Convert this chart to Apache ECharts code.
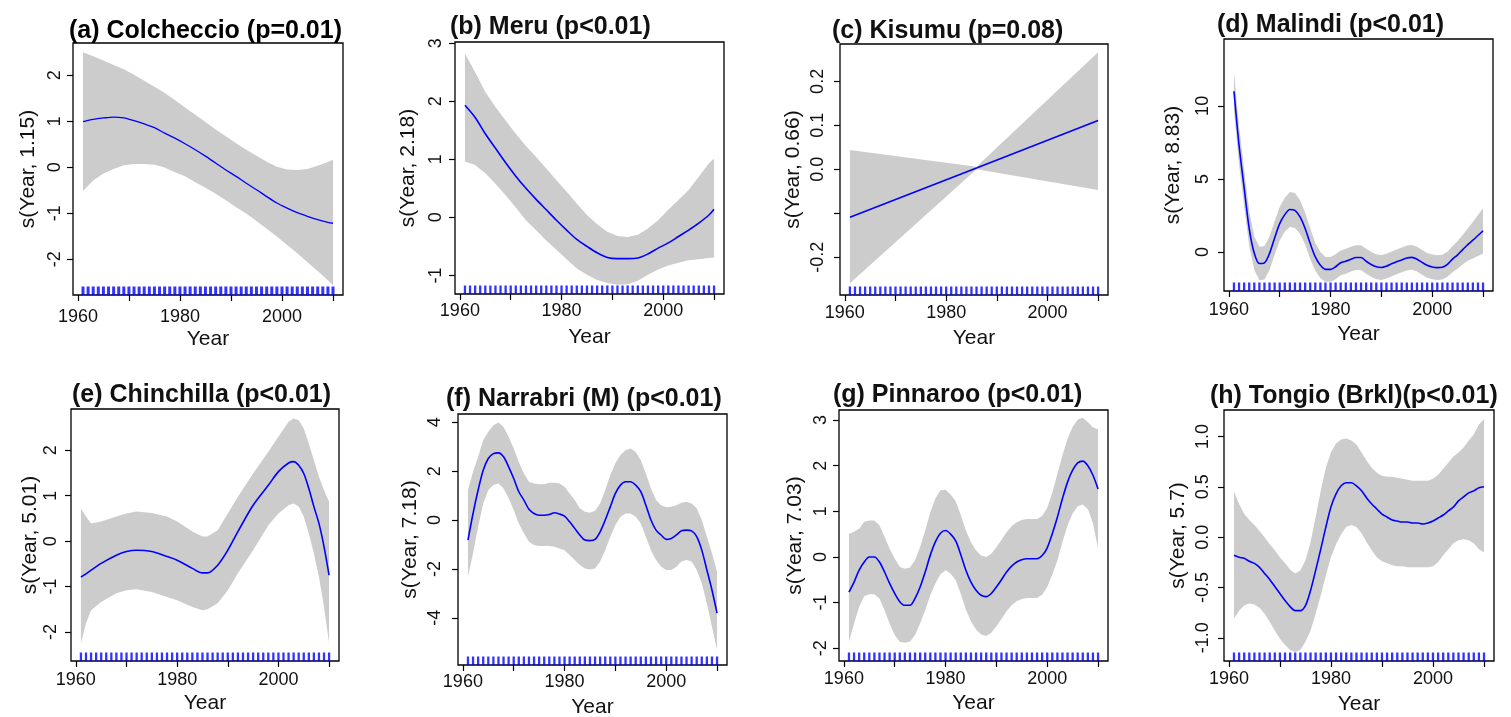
<!DOCTYPE html>
<html><head><meta charset="utf-8">
<script src="https://cdn.jsdelivr.net/npm/echarts@6/dist/echarts.min.js"></script>
<style>html,body{margin:0;padding:0;background:#fff}#c{width:1511px;height:717px}</style>
</head><body><div id="c"></div>
<script>
// ---------- data ----------
const rugYears = [1961,1962,1963,1964,1965,1966,1967,1968,1969,1970,1971,1972,1973,1974,1975,1976,1977,1978,1979,1980,1981,1982,1983,1984,1985,1986,1987,1988,1989,1990,1991,1992,1993,1994,1995,1996,1997,1998,1999,2000,2001,2002,2003,2004,2005,2006,2007,2008,2009,2010];
const allYears = rugYears;

const titles = ["(a) Colcheccio (p=0.01)","(b) Meru (p<0.01)","(c) Kisumu (p=0.08)","(d) Malindi (p<0.01)",
                "(e) Chinchilla (p<0.01)","(f) Narrabri (M) (p<0.01)","(g) Pinnaroo (p<0.01)","(h) Tongio (Brkl)(p<0.01)"];
const yNames = ["s(Year, 1.15)","s(Year, 2.18)","s(Year, 0.66)","s(Year, 8.83)","s(Year, 5.01)","s(Year, 7.18)","s(Year, 7.03)","s(Year, 5.7)"];
const xName = "Year";

const xLimits = [1959.04, 2011.96];
const xTicks = [1960,1970,1980,1990,2000,2010];
const xLabels = [1960,1980,2000];

const yLimits = [[-2.78,2.70],[-1.32,3.02],[-0.286,0.285],[-2.68,14.58],[-2.64,2.91],[-5.93,4.34],[-2.28,3.22],[-1.23,1.263]];
const yTicks = [[-2,-1,0,1,2],[-1,0,1,2,3],[-0.2,-0.1,0,0.1,0.2],[0,5,10],[-2,-1,0,1,2],[-4,-2,0,2,4],[-2,-1,0,1,2,3],[-1,-0.5,0,0.5,1]];
const yLabels = [[-2,-1,0,1,2],[-1,0,1,2,3],[-0.2,0,0.1,0.2],[0,5,10],[-2,-1,0,1,2],[-4,-2,0,2,4],[-2,-1,0,1,2,3],[-1,-0.5,0,0.5,1]];
const yDecimals = [0,0,1,0,0,0,0,1];

// (a) Colcheccio
const yearsA = [1961,1963,1965,1967,1969,1971,1973,1975,1977,1979,1981,1983,1985,1987,1989,1991,1993,1995,1997,1999,2001,2003,2005,2007,2009,2010];
const fitA = [0.99,1.04,1.07,1.09,1.07,1.01,0.94,0.86,0.74,0.63,0.51,0.38,0.24,0.09,-0.06,-0.20,-0.35,-0.49,-0.64,-0.78,-0.89,-0.99,-1.07,-1.14,-1.20,-1.22];
const upA  = [2.50,2.41,2.32,2.22,2.13,2.01,1.88,1.75,1.61,1.46,1.30,1.14,0.98,0.82,0.67,0.52,0.38,0.25,0.12,0.01,-0.05,-0.06,-0.04,0.03,0.11,0.16];
const loA  = [-0.52,-0.29,-0.14,-0.04,0.04,0.07,0.07,0.05,-0.01,-0.11,-0.20,-0.33,-0.45,-0.58,-0.72,-0.87,-1.01,-1.17,-1.34,-1.51,-1.69,-1.87,-2.07,-2.26,-2.46,-2.57];

// (b) Meru
const yearsB = yearsA;
const fitB = [1.93,1.72,1.44,1.19,0.94,0.71,0.50,0.31,0.13,-0.05,-0.22,-0.38,-0.50,-0.61,-0.69,-0.71,-0.71,-0.70,-0.63,-0.53,-0.44,-0.33,-0.22,-0.10,0.04,0.14];
const upB  = [2.82,2.50,2.16,1.90,1.67,1.44,1.23,1.04,0.84,0.64,0.44,0.24,0.04,-0.12,-0.25,-0.32,-0.34,-0.30,-0.19,-0.05,0.13,0.30,0.47,0.70,0.93,1.01];
const loB  = [0.96,0.90,0.76,0.58,0.38,0.17,-0.05,-0.22,-0.40,-0.56,-0.72,-0.88,-0.99,-1.08,-1.13,-1.16,-1.15,-1.09,-0.99,-0.90,-0.83,-0.78,-0.74,-0.72,-0.70,-0.69];

// (c) Kisumu
const yearsC = [1961,1986,2010];
const fitC = [-0.109,0.003,0.111];
const upC  = [0.044,0.006,0.266];
const loC  = [-0.259,0.000,-0.047];

// (d) Malindi
const fitD = [11.0,7.3,4.4,1.6,-0.1,-0.8,-0.75,-0.1,0.95,1.93,2.55,2.9,2.84,2.39,1.6,0.57,-0.34,-0.91,-1.2,-1.2,-1.02,-0.75,-0.64,-0.5,-0.39,-0.39,-0.64,-0.86,-1.02,-1.07,-0.98,-0.82,-0.68,-0.55,-0.42,-0.38,-0.5,-0.72,-0.92,-1.03,-1.08,-1.05,-0.85,-0.5,-0.2,0.15,0.5,0.8,1.12,1.44];
const upD  = [12.35,8.6,5.65,2.8,1.05,0.35,0.4,1.05,2.1,3.08,3.7,4.1,4.04,3.54,2.7,1.62,0.61,-0.01,-0.35,-0.35,-0.17,0.1,0.21,0.35,0.46,0.46,0.21,-0.01,-0.17,-0.22,-0.13,0.03,0.17,0.3,0.43,0.47,0.35,0.13,-0.07,-0.18,-0.23,-0.2,0.0,0.4,0.75,1.15,1.6,2.05,2.52,2.99];
const loD  = [9.65,6.0,3.15,0.4,-1.25,-1.95,-1.9,-1.25,-0.2,0.78,1.4,1.7,1.64,1.24,0.5,-0.48,-1.29,-1.81,-2.05,-2.05,-1.87,-1.6,-1.49,-1.35,-1.24,-1.24,-1.49,-1.71,-1.87,-1.92,-1.83,-1.67,-1.53,-1.4,-1.27,-1.23,-1.35,-1.57,-1.77,-1.88,-1.93,-1.9,-1.7,-1.4,-1.15,-0.85,-0.6,-0.45,-0.28,-0.11];

// (e) Chinchilla
const yearsE = [1961,1962,1963,1965,1968,1970,1972,1975,1978,1980,1983,1985,1986,1988,1990,1992,1995,1998,2000,2002,2003,2004,2005,2006,2007,2008,2009,2010];
const fitE = [-0.79,-0.72,-0.64,-0.49,-0.31,-0.23,-0.20,-0.23,-0.34,-0.42,-0.60,-0.70,-0.70,-0.53,-0.20,0.21,0.79,1.23,1.53,1.72,1.75,1.67,1.49,1.16,0.76,0.39,-0.12,-0.75];
const upE  = [0.72,0.54,0.39,0.43,0.54,0.61,0.65,0.62,0.54,0.43,0.21,0.10,0.10,0.24,0.61,0.98,1.49,1.97,2.30,2.63,2.70,2.66,2.48,2.15,1.78,1.42,1.12,0.87];
const loE  = [-2.25,-1.81,-1.52,-1.34,-1.15,-1.08,-1.06,-1.12,-1.23,-1.30,-1.45,-1.52,-1.50,-1.37,-1.08,-0.71,-0.20,0.35,0.61,0.79,0.83,0.76,0.54,0.17,-0.27,-0.79,-1.45,-2.25];

// (f) Narrabri (M)
const fitF = [-0.82,0.27,1.23,2.04,2.52,2.72,2.75,2.59,2.18,1.70,1.16,0.82,0.44,0.27,0.20,0.20,0.23,0.30,0.25,0.16,-0.07,-0.34,-0.61,-0.82,-0.84,-0.79,-0.48,0.0,0.54,1.09,1.43,1.57,1.57,1.43,1.16,0.61,0.0,-0.41,-0.61,-0.79,-0.75,-0.61,-0.44,-0.41,-0.44,-0.68,-1.23,-2.04,-2.86,-3.81];
const upF  = [1.23,1.98,2.59,3.27,3.61,3.88,3.99,3.81,3.41,2.93,2.38,1.91,1.57,1.50,1.47,1.47,1.53,1.53,1.50,1.36,1.09,0.82,0.48,0.34,0.30,0.38,0.68,1.23,1.84,2.32,2.66,2.86,2.93,2.79,2.45,1.91,1.29,0.82,0.61,0.52,0.54,0.61,0.71,0.75,0.68,0.48,0.0,-0.68,-1.36,-2.11];
const loF  = [-2.32,-1.36,-0.27,0.68,1.23,1.43,1.50,1.29,0.89,0.41,-0.14,-0.54,-0.89,-1.02,-1.06,-1.06,-1.06,-1.09,-1.16,-1.23,-1.43,-1.63,-1.84,-1.98,-2.02,-1.98,-1.70,-1.23,-0.68,-0.20,0.14,0.27,0.27,0.14,-0.14,-0.68,-1.23,-1.63,-1.91,-2.04,-2.04,-1.91,-1.70,-1.63,-1.70,-2.04,-2.59,-3.41,-4.36,-5.31];

// (g) Pinnaroo
const fitG = [-0.77,-0.55,-0.29,-0.11,0,0,-0.11,-0.33,-0.58,-0.80,-0.98,-1.06,-1.06,-0.91,-0.66,-0.33,0.04,0.33,0.52,0.58,0.50,0.35,0.05,-0.29,-0.55,-0.73,-0.84,-0.87,-0.80,-0.66,-0.50,-0.33,-0.20,-0.11,-0.06,-0.04,-0.04,-0.04,0.03,0.20,0.51,0.87,1.28,1.64,1.90,2.06,2.10,2.00,1.79,1.49];
const upG  = [0.51,0.55,0.62,0.77,0.80,0.80,0.69,0.44,0.18,-0.04,-0.22,-0.26,-0.23,-0.07,0.22,0.58,0.98,1.28,1.46,1.47,1.37,1.22,0.92,0.58,0.32,0.14,0.03,0.0,0.07,0.21,0.37,0.54,0.67,0.76,0.81,0.83,0.83,0.83,0.90,1.07,1.41,1.82,2.23,2.59,2.85,3.01,3.05,2.95,2.84,2.79];
const loG  = [-1.86,-1.46,-1.09,-0.86,-0.82,-0.82,-0.91,-1.17,-1.46,-1.71,-1.86,-1.88,-1.86,-1.71,-1.46,-1.17,-0.84,-0.58,-0.38,-0.29,-0.36,-0.51,-0.81,-1.15,-1.41,-1.59,-1.70,-1.73,-1.66,-1.52,-1.36,-1.19,-1.06,-0.97,-0.92,-0.90,-0.90,-0.90,-0.83,-0.66,-0.39,-0.08,0.33,0.69,0.95,1.11,1.15,1.05,0.74,0.19];

// (h) Tongio (Brkl)
const fitH = [-0.18,-0.20,-0.21,-0.24,-0.26,-0.30,-0.36,-0.42,-0.49,-0.56,-0.63,-0.69,-0.73,-0.73,-0.68,-0.53,-0.33,-0.12,0.10,0.30,0.43,0.51,0.54,0.54,0.51,0.46,0.39,0.33,0.28,0.23,0.20,0.17,0.16,0.15,0.15,0.14,0.14,0.13,0.14,0.16,0.19,0.22,0.26,0.30,0.36,0.40,0.44,0.46,0.49,0.50];
const upH  = [0.45,0.33,0.23,0.17,0.12,0.06,0.0,-0.07,-0.13,-0.20,-0.26,-0.32,-0.36,-0.33,-0.23,-0.05,0.20,0.46,0.69,0.84,0.93,0.97,0.98,0.96,0.92,0.84,0.76,0.69,0.64,0.61,0.60,0.60,0.59,0.58,0.57,0.56,0.56,0.56,0.56,0.58,0.62,0.68,0.74,0.80,0.84,0.89,0.96,1.02,1.12,1.17];
const loH  = [-0.81,-0.73,-0.68,-0.66,-0.67,-0.70,-0.76,-0.84,-0.93,-1.01,-1.07,-1.12,-1.14,-1.12,-1.04,-0.93,-0.76,-0.58,-0.38,-0.20,-0.07,0.03,0.10,0.12,0.10,0.04,-0.05,-0.13,-0.20,-0.24,-0.26,-0.28,-0.29,-0.29,-0.30,-0.30,-0.30,-0.30,-0.30,-0.29,-0.25,-0.18,-0.12,-0.06,-0.03,-0.02,-0.03,-0.06,-0.12,-0.15];

const panelData = [
  [yearsA, fitA, upA, loA], [yearsB, fitB, upB, loB], [yearsC, fitC, upC, loC], [allYears, fitD, upD, loD],
  [yearsE, fitE, upE, loE], [allYears, fitF, upF, loF], [allYears, fitG, upG, loG], [allYears, fitH, upH, loH]
];

// ---------- layout (pixels) ----------
// [left, top, width, height, titleLeft, titleTop, yLabelMargin, yNameGap, xLabelMargin, xNameGap]
const layout = [
  [73, 43, 270, 252, 69, 19, 8.5, 34.5, 13, 34],
  [455, 42, 269, 252, 450, 15, 10, 36, 8.5, 32.5],
  [840, 44, 268, 251, 832, 19, 13, 36.5, 9.5, 33],
  [1224, 39, 269, 252, 1217, 13, 12, 40.5, 10.5, 33],
  [71, 409, 268, 252, 72, 383, 10.5, 30.5, 10.5, 31.5],
  [458, 414, 269, 251, 446, 387, 13.5, 37, 8, 32],
  [839, 410, 269, 251, 833, 383, 9, 33.3, 9, 31.7],
  [1224, 410, 270, 251, 1210, 384, 11.5, 35.3, 9.5, 33]
];

const FONT = "'Liberation Sans', Arial, Helvetica, sans-serif";
const TXT = '#111';
const BLUE = '#0000ff';
const GRAY = '#cccccc';

const grid = [], xAxis = [], yAxis = [], series = [], title = [];

layout.forEach((L, i) => {
  const [xs, fit, up, lo] = panelData[i];
  grid.push({left: L[0], top: L[1], width: L[2], height: L[3], show: true, borderColor: '#000', borderWidth: 1.3,
             backgroundColor: 'transparent', containLabel: false, outerBoundsMode: 'none'});
  title.push({text: titles[i], left: L[4], top: L[5], padding: 0,
              textStyle: {fontFamily: FONT, fontSize: 25, fontWeight: 'bold', color: i === 0 ? '#000' : TXT}});
  xAxis.push({
    type: 'value', gridIndex: i, min: xLimits[0], max: xLimits[1],
    name: xName, nameLocation: 'middle', nameGap: L[9],
    nameTextStyle: {fontFamily: FONT, fontSize: 21, color: TXT},
    axisLine: {show: false, onZero: false},
    splitLine: {show: false},
    axisTick: {show: true, length: 6, inside: false, customValues: xTicks, lineStyle: {color: '#000', width: 1.2}},
    axisLabel: {show: true, customValues: xLabels, margin: L[8], fontFamily: FONT, fontSize: 18, color: TXT,
                formatter: v => String(v)}
  });
  const dec = yDecimals[i];
  yAxis.push({
    type: 'value', gridIndex: i, min: yLimits[i][0], max: yLimits[i][1],
    name: yNames[i], nameLocation: 'middle', nameGap: L[7], nameRotate: 90,
    nameTextStyle: {fontFamily: FONT, fontSize: 21, color: TXT},
    axisLine: {show: false, onZero: false},
    splitLine: {show: false},
    axisTick: {show: true, length: 6, inside: false, customValues: yTicks[i], lineStyle: {color: '#000', width: 1.2}},
    axisLabel: {show: true, customValues: yLabels[i], rotate: 90, margin: L[6], fontFamily: FONT, fontSize: 18, color: TXT,
                formatter: v => Number(v).toFixed(dec)}
  });
  // auxiliary hidden axis for the rug
  yAxis.push({type: 'value', gridIndex: i, min: 0, max: 1, show: false,
              axisLine: {show: false, onZero: false}, splitLine: {show: false}});

  // confidence band
  series.push({
    type: 'custom', xAxisIndex: i, yAxisIndex: 2 * i, silent: true, z: 1, clip: true,
    data: xs.map((x, k) => [x, lo[k], up[k]]),
    encode: {x: 0, y: [1, 2]},
    renderItem: function (params, api) {
      if (params.dataIndex !== 0) return null;
      const pts = [];
      for (let k = 0; k < xs.length; k++) pts.push(api.coord([xs[k], up[k]]));
      for (let k = xs.length - 1; k >= 0; k--) pts.push(api.coord([xs[k], lo[k]]));
      return {type: 'polygon', shape: {points: pts}, style: {fill: GRAY, stroke: null}};
    }
  });
  // fitted smooth
  series.push({
    type: 'line', xAxisIndex: i, yAxisIndex: 2 * i, z: 3, silent: true,
    data: xs.map((x, k) => [x, fit[k]]),
    showSymbol: false, symbol: 'none', smooth: i === 2 ? false : 0.3,
    lineStyle: {color: BLUE, width: i === 0 ? 1.3 : 1.6}
  });
  // rug
  series.push({
    type: 'scatter', xAxisIndex: i, yAxisIndex: 2 * i + 1, z: 4, silent: true,
    data: rugYears.map(y => [y, 0]),
    symbol: 'rect', symbolSize: [i === 0 ? 3 : 2.3, 8.5], symbolOffset: [0, -4.25],
    itemStyle: {color: BLUE}
  });
});

const chart = echarts.init(document.getElementById('c'), null, {renderer: 'canvas'});
chart.setOption({animation: false, backgroundColor: '#fff', title, grid, xAxis, yAxis, series});
</script>
</body></html>
